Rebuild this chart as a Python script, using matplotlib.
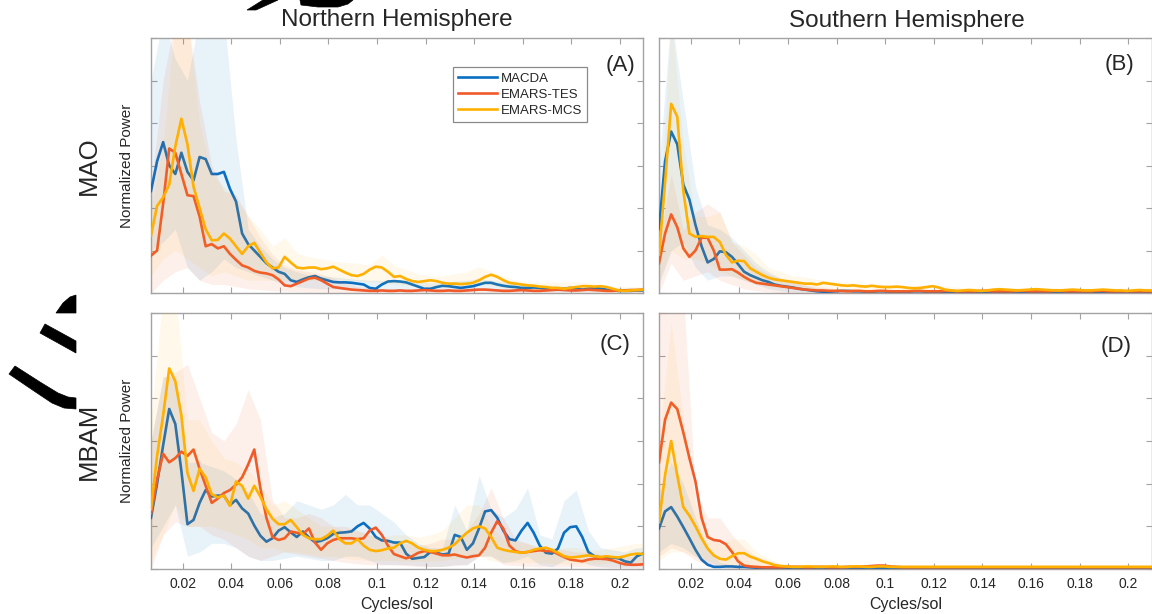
import numpy as np
import matplotlib
matplotlib.use("Agg")
import matplotlib.pyplot as plt
from matplotlib.patches import Polygon
from matplotlib.ticker import FixedLocator, FixedFormatter, NullFormatter

plt.rcParams['font.family'] = ['Liberation Sans', 'DejaVu Sans']

# ---------------------------------------------------------------- data
freq = 0.007 + 0.0025 * np.arange(82)        # cycles/sol, spectral lines
band_freq = 0.007 + 0.005 * np.arange(42)    # cycles/sol, spread envelopes

x_ticks = [0.02, 0.04, 0.06, 0.08, 0.1, 0.12, 0.14, 0.16, 0.18, 0.2]
x_tick_labels = ['0.02', '0.04', '0.06', '0.08', '0.1', '0.12', '0.14', '0.16', '0.18', '0.2']
y_ticks = [0, 1, 2, 3, 4, 5, 6]

series_names = ['MACDA', 'EMARS-TES', 'EMARS-MCS']
hemispheres = ['Northern Hemisphere', 'Southern Hemisphere']
indices = ['MAO', 'MBAM']
panel_letters = ['(A)', '(B)', '(C)', '(D)']

# ---- MAO, northern hemisphere
macda_mao_nh = [2.4, 3.1, 3.55, 3.0, 2.8, 3.3, 2.85, 2.65, 3.2, 3.15,
                2.8, 2.8, 2.85, 2.45, 2.15, 1.4, 1.15, 1.0, 0.85, 0.7,
                0.6, 0.5, 0.45, 0.3, 0.26, 0.32, 0.37, 0.4, 0.34, 0.3,
                0.26, 0.25, 0.25, 0.24, 0.22, 0.2, 0.12, 0.1, 0.2, 0.27,
                0.28, 0.27, 0.25, 0.2, 0.15, 0.1, 0.1, 0.14, 0.17, 0.16,
                0.14, 0.12, 0.14, 0.16, 0.2, 0.24, 0.24, 0.2, 0.17, 0.15,
                0.14, 0.12, 0.12, 0.13, 0.12, 0.1, 0.08, 0.08, 0.1, 0.12,
                0.1, 0.08, 0.1, 0.12, 0.1, 0.08, 0.06, 0.05, 0.05, 0.05,
                0.06, 0.06]
tes_mao_nh = [0.88, 1.0, 2.1, 3.4, 3.3, 2.8, 2.3, 2.28, 1.8, 1.1,
              1.15, 1.05, 1.1, 0.92, 0.78, 0.65, 0.6, 0.52, 0.48, 0.46,
              0.42, 0.32, 0.18, 0.16, 0.22, 0.28, 0.34, 0.36, 0.3, 0.22,
              0.14, 0.12, 0.1, 0.08, 0.07, 0.06, 0.05, 0.05, 0.06, 0.05,
              0.05, 0.06, 0.05, 0.05, 0.06, 0.07, 0.06, 0.05, 0.05, 0.06,
              0.05, 0.05, 0.06, 0.07, 0.08, 0.08, 0.07, 0.06, 0.05, 0.05,
              0.06, 0.07, 0.06, 0.05, 0.05, 0.06, 0.07, 0.08, 0.07, 0.06,
              0.06, 0.07, 0.08, 0.07, 0.06, 0.05, 0.05, 0.06, 0.06, 0.07,
              0.07, 0.08]
mcs_mao_nh = [1.35, 2.05, 2.25, 2.55, 3.45, 4.1, 3.5, 2.5, 2.0, 1.5,
              1.24, 1.25, 1.4, 1.28, 1.1, 0.92, 1.1, 1.18, 0.95, 0.72,
              0.58, 0.6, 0.85, 0.72, 0.6, 0.58, 0.6, 0.6, 0.56, 0.58,
              0.62, 0.55, 0.48, 0.42, 0.4, 0.45, 0.55, 0.62, 0.6, 0.5,
              0.38, 0.4, 0.33, 0.28, 0.26, 0.28, 0.3, 0.28, 0.24, 0.22,
              0.22, 0.21, 0.22, 0.24, 0.3, 0.38, 0.43, 0.38, 0.3, 0.24,
              0.22, 0.2, 0.18, 0.17, 0.15, 0.14, 0.12, 0.12, 0.1, 0.12,
              0.14, 0.16, 0.16, 0.15, 0.16, 0.14, 0.1, 0.06, 0.05, 0.06,
              0.07, 0.08]

macda_mao_nh_lo = [1.0, 1.2, 1.5, 0.6, 0.3, 0.5, 0.8, 0.6, 0.5, 0.4,
                   0.3, 0.2, 0.15, 0.12, 0.1, 0.1, 0.08, 0.06, 0.05, 0.05,
                   0.05, 0.05, 0.04, 0.04, 0.04, 0.04, 0.05, 0.06, 0.05, 0.04,
                   0.04, 0.03, 0.03, 0.03, 0.03, 0.03, 0.03, 0.03, 0.03, 0.03,
                   0.03, 0.03]
macda_mao_nh_hi = [5.0, 6.5, 5.5, 5.0, 6.5, 6.5, 6.5, 3.6, 1.5, 1.1,
                   0.8, 0.6, 0.5, 0.42, 0.4, 0.38, 0.35, 0.32, 0.3, 0.3,
                   0.32, 0.3, 0.26, 0.24, 0.25, 0.28, 0.3, 0.34, 0.3, 0.26,
                   0.22, 0.2, 0.18, 0.18, 0.16, 0.18, 0.16, 0.14, 0.12, 0.12,
                   0.12, 0.12]
tes_mao_nh_lo = [0.0, 0.3, 0.5, 0.6, 0.3, 0.2, 0.2, 0.15, 0.1, 0.08,
                 0.05, 0.04, 0.03, 0.02, 0.02, 0.02, 0.01, 0.01, 0.01, 0.01,
                 0.01, 0.01, 0.01, 0.01, 0.01, 0.01, 0.01, 0.01, 0.01, 0.01,
                 0.01, 0.01, 0.01, 0.01, 0.01, 0.01, 0.01, 0.01, 0.01, 0.01,
                 0.01, 0.01]
tes_mao_nh_hi = [2.5, 5.0, 6.5, 6.5, 4.5, 3.0, 2.4, 2.3, 1.8, 1.3,
                 0.9, 0.65, 0.55, 0.5, 0.45, 0.35, 0.25, 0.15, 0.12, 0.1,
                 0.1, 0.1, 0.1, 0.1, 0.1, 0.11, 0.12, 0.12, 0.11, 0.1,
                 0.1, 0.1, 0.11, 0.12, 0.11, 0.1, 0.1, 0.1, 0.11, 0.1,
                 0.1, 0.1]
mcs_mao_nh_lo = [0.4, 0.8, 1.0, 0.8, 0.6, 0.4, 0.5, 0.4, 0.3, 0.3,
                 0.3, 0.3, 0.3, 0.3, 0.3, 0.32, 0.3, 0.28, 0.26, 0.25,
                 0.2, 0.18, 0.15, 0.12, 0.12, 0.14, 0.2, 0.22, 0.18, 0.12,
                 0.1, 0.08, 0.07, 0.08, 0.08, 0.08, 0.06, 0.04, 0.03, 0.03,
                 0.03, 0.03]
mcs_mao_nh_hi = [2.0, 3.5, 6.5, 6.5, 4.0, 2.8, 2.5, 2.2, 1.8, 1.5,
                 1.1, 1.3, 0.95, 0.85, 0.8, 0.75, 0.72, 0.7, 0.65, 0.9,
                 0.65, 0.55, 0.45, 0.4, 0.4, 0.45, 0.5, 0.62, 0.5, 0.4,
                 0.3, 0.26, 0.24, 0.26, 0.26, 0.26, 0.24, 0.2, 0.16, 0.15,
                 0.15, 0.15]

# ---- MAO, southern hemisphere
macda_mao_sh = [1.5, 3.1, 3.8, 3.5, 2.55, 2.2, 1.6, 1.1, 0.72, 0.8,
                0.98, 0.96, 0.85, 0.68, 0.5, 0.42, 0.36, 0.3, 0.26, 0.2,
                0.17, 0.15, 0.13, 0.1, 0.08, 0.06, 0.04, 0.03, 0.03, 0.04,
                0.05, 0.05, 0.04, 0.04, 0.03, 0.03, 0.04, 0.04, 0.03, 0.03,
                0.03, 0.03, 0.04, 0.04, 0.03, 0.02, 0.02, 0.03, 0.03, 0.03,
                0.03, 0.02, 0.02, 0.03, 0.03, 0.02, 0.02, 0.02, 0.03, 0.03,
                0.02, 0.02, 0.02, 0.03, 0.03, 0.02, 0.02, 0.02, 0.02, 0.03,
                0.03, 0.02, 0.02, 0.02, 0.02, 0.03, 0.03, 0.02, 0.02, 0.02,
                0.02, 0.02]
tes_mao_sh = [0.7, 1.4, 1.85, 1.55, 1.05, 0.85, 1.0, 1.3, 1.3, 1.0,
              0.55, 0.55, 0.56, 0.48, 0.38, 0.3, 0.24, 0.22, 0.2, 0.18,
              0.16, 0.14, 0.12, 0.1, 0.08, 0.07, 0.06, 0.06, 0.05, 0.05,
              0.05, 0.04, 0.05, 0.05, 0.04, 0.04, 0.05, 0.05, 0.04, 0.04,
              0.04, 0.04, 0.05, 0.05, 0.04, 0.04, 0.04, 0.05, 0.05, 0.04,
              0.04, 0.04, 0.04, 0.05, 0.05, 0.04, 0.04, 0.04, 0.04, 0.05,
              0.05, 0.04, 0.04, 0.04, 0.04, 0.05, 0.05, 0.04, 0.04, 0.04,
              0.04, 0.04, 0.05, 0.05, 0.04, 0.04, 0.04, 0.04, 0.04, 0.04,
              0.04, 0.04]
mcs_mao_sh = [0.9, 2.6, 4.45, 4.15, 2.4, 1.4, 1.32, 1.34, 1.32, 1.32,
              1.2, 0.9, 0.72, 0.76, 0.75, 0.58, 0.5, 0.42, 0.36, 0.32,
              0.3, 0.28, 0.26, 0.24, 0.22, 0.22, 0.2, 0.24, 0.22, 0.2,
              0.18, 0.17, 0.18, 0.16, 0.15, 0.17, 0.15, 0.14, 0.14, 0.15,
              0.14, 0.12, 0.11, 0.12, 0.14, 0.16, 0.13, 0.08, 0.06, 0.05,
              0.06, 0.07, 0.06, 0.05, 0.06, 0.08, 0.09, 0.08, 0.07, 0.06,
              0.07, 0.08, 0.09, 0.08, 0.07, 0.06, 0.06, 0.07, 0.08, 0.07,
              0.06, 0.06, 0.07, 0.08, 0.07, 0.06, 0.06, 0.05, 0.06, 0.07,
              0.06, 0.06]

macda_mao_sh_lo = [0.2, 1.0, 1.2, 0.6, 0.3, 0.4, 0.4, 0.3, 0.2, 0.1,
                   0.05, 0.02, 0.0, 0.0, 0.0, 0.0, 0.0, 0.0, 0.0, 0.0,
                   0.0, 0.0, 0.0, 0.0, 0.0, 0.0, 0.0, 0.0, 0.0, 0.0,
                   0.0, 0.0, 0.0, 0.0, 0.0, 0.0, 0.0, 0.0, 0.0, 0.0,
                   0.0, 0.0]
macda_mao_sh_hi = [3.0, 6.5, 4.5, 2.5, 1.6, 1.5, 1.3, 1.0, 0.7, 0.5,
                   0.35, 0.25, 0.18, 0.12, 0.1, 0.08, 0.06, 0.06, 0.06, 0.06,
                   0.06, 0.06, 0.06, 0.06, 0.06, 0.06, 0.06, 0.06, 0.06, 0.06,
                   0.06, 0.06, 0.06, 0.06, 0.06, 0.06, 0.06, 0.06, 0.06, 0.06,
                   0.06, 0.06]
tes_mao_sh_lo = [0.0, 0.7, 0.3, 0.4, 0.5, 0.3, 0.2, 0.1, 0.05, 0.03,
                 0.0, 0.0, 0.0, 0.0, 0.0, 0.0, 0.0, 0.0, 0.0, 0.0,
                 0.0, 0.0, 0.0, 0.0, 0.0, 0.0, 0.0, 0.0, 0.0, 0.0,
                 0.0, 0.0, 0.0, 0.0, 0.0, 0.0, 0.0, 0.0, 0.0, 0.0,
                 0.0, 0.0]
tes_mao_sh_hi = [1.2, 2.8, 1.5, 1.9, 2.1, 1.9, 1.2, 0.9, 0.6, 0.45,
                 0.35, 0.25, 0.2, 0.15, 0.12, 0.08, 0.08, 0.08, 0.08, 0.08,
                 0.08, 0.08, 0.08, 0.08, 0.08, 0.08, 0.08, 0.08, 0.08, 0.08,
                 0.08, 0.08, 0.08, 0.08, 0.08, 0.08, 0.08, 0.08, 0.08, 0.08,
                 0.08, 0.08]
mcs_mao_sh_lo = [0.3, 1.0, 0.8, 0.8, 0.7, 0.5, 0.4, 0.3, 0.2, 0.15,
                 0.12, 0.1, 0.08, 0.06, 0.05, 0.04, 0.03, 0.02, 0.02, 0.02,
                 0.02, 0.02, 0.02, 0.02, 0.02, 0.02, 0.02, 0.02, 0.02, 0.02,
                 0.02, 0.02, 0.02, 0.02, 0.02, 0.02, 0.02, 0.02, 0.02, 0.02,
                 0.02, 0.02]
mcs_mao_sh_hi = [1.5, 6.5, 3.5, 1.8, 1.8, 1.9, 1.2, 1.1, 0.9, 0.6,
                 0.5, 0.4, 0.38, 0.32, 0.28, 0.26, 0.24, 0.22, 0.22, 0.2,
                 0.18, 0.18, 0.2, 0.18, 0.15, 0.13, 0.12, 0.12, 0.12, 0.12,
                 0.12, 0.12, 0.12, 0.12, 0.12, 0.12, 0.12, 0.12, 0.12, 0.12,
                 0.12, 0.12]

# ---- MBAM, northern hemisphere
macda_mbam_nh = [1.2, 2.0, 2.9, 3.75, 3.4, 2.3, 1.05, 1.15, 1.55, 1.85,
                 1.7, 1.72, 1.72, 1.5, 1.62, 1.42, 1.3, 1.02, 0.78, 0.64,
                 0.72, 0.9, 0.98, 0.86, 0.75, 0.88, 0.74, 0.63, 0.66, 0.72,
                 0.82, 0.85, 0.86, 0.88, 1.0, 1.08, 0.95, 0.75, 0.67, 0.66,
                 0.62, 0.62, 0.36, 0.24, 0.26, 0.28, 0.4, 0.38, 0.34, 0.36,
                 0.8, 0.75, 0.45, 0.6, 0.95, 1.35, 1.38, 1.2, 0.9, 0.7,
                 0.67, 0.9, 1.08, 0.85, 0.55, 0.38, 0.36, 0.48, 0.85, 0.98,
                 1.0, 0.75, 0.4, 0.3, 0.27, 0.26, 0.27, 0.25, 0.18, 0.15,
                 0.3, 0.36]
tes_mbam_nh = [1.3, 2.1, 2.7, 2.5, 2.6, 2.75, 2.65, 2.8, 2.35, 1.95,
               1.55, 1.65, 1.78, 1.85, 1.98, 2.15, 2.45, 2.8, 1.9, 1.2,
               0.75, 0.68, 0.72, 0.88, 0.85, 0.82, 0.95, 0.62, 0.45, 0.6,
               0.68, 0.72, 0.72, 0.72, 0.7, 0.72, 0.9, 0.97, 0.8, 0.55,
               0.35, 0.3, 0.25, 0.3, 0.38, 0.42, 0.4, 0.36, 0.32, 0.32,
               0.34, 0.3, 0.27, 0.3, 0.32, 0.5, 0.85, 1.12, 0.95, 0.55,
               0.42, 0.38, 0.4, 0.42, 0.44, 0.42, 0.42, 0.35, 0.28, 0.22,
               0.2, 0.18, 0.22, 0.24, 0.24, 0.23, 0.2, 0.15, 0.11, 0.1,
               0.1, 0.11]
mcs_mbam_nh = [1.4, 2.65, 3.6, 4.7, 4.4, 3.6, 2.25, 1.83, 2.35, 2.15,
               1.75, 1.68, 1.72, 1.48, 2.05, 1.95, 1.65, 1.95, 1.7, 1.4,
               1.18, 1.05, 1.05, 1.15, 0.98, 0.8, 0.72, 0.7, 0.7, 0.78,
               0.9, 0.7, 0.6, 0.6, 0.7, 0.55, 0.45, 0.42, 0.44, 0.48,
               0.5, 0.6, 0.66, 0.6, 0.5, 0.45, 0.42, 0.42, 0.45, 0.5,
               0.58, 0.72, 0.85, 0.95, 1.0, 0.95, 0.75, 0.5, 0.45, 0.42,
               0.4, 0.38, 0.4, 0.45, 0.48, 0.5, 0.45, 0.38, 0.3, 0.27,
               0.28, 0.3, 0.32, 0.3, 0.28, 0.3, 0.28, 0.27, 0.3, 0.34,
               0.36, 0.35]

macda_mbam_nh_lo = [0.5, 1.0, 1.5, 0.3, 0.4, 0.6, 0.6, 0.5, 0.3, 0.2,
                    0.2, 0.25, 0.3, 0.25, 0.2, 0.2, 0.3, 0.3, 0.2, 0.1,
                    0.1, 0.1, 0.08, 0.06, 0.06, 0.1, 0.1, 0.3, 0.3, 0.15,
                    0.2, 0.3, 0.1, 0.05, 0.2, 0.3, 0.1, 0.05, 0.04, 0.04,
                    0.05, 0.06]
macda_mbam_nh_hi = [3.0, 4.5, 4.5, 2.5, 2.5, 2.4, 2.3, 2.1, 1.8, 1.3,
                    1.2, 1.3, 1.6, 1.5, 1.4, 1.5, 1.75, 1.5, 1.5, 1.3,
                    1.1, 0.8, 0.6, 0.5, 0.5, 1.5, 0.9, 2.2, 1.4, 1.2,
                    1.4, 1.9, 0.8, 0.7, 1.6, 1.85, 0.9, 0.5, 0.45, 0.4,
                    0.5, 0.5]
tes_mbam_nh_lo = [0.0, 0.8, 1.1, 1.0, 1.0, 0.8, 0.7, 0.5, 0.3, 0.2,
                  0.3, 0.4, 0.35, 0.3, 0.25, 0.2, 0.15, 0.12, 0.1, 0.1,
                  0.1, 0.08, 0.06, 0.05, 0.06, 0.08, 0.1, 0.3, 0.3, 0.1,
                  0.08, 0.06, 0.05, 0.05, 0.05, 0.05, 0.04, 0.04, 0.03, 0.03,
                  0.03, 0.03]
tes_mbam_nh_hi = [3.0, 4.5, 4.6, 4.8, 4.0, 3.2, 3.0, 3.4, 4.2, 3.5,
                  1.6, 1.2, 1.2, 1.3, 1.2, 1.0, 1.0, 0.9, 0.8, 0.7,
                  0.6, 0.6, 0.55, 0.6, 0.7, 0.7, 0.9, 1.3, 1.9, 1.2,
                  0.7, 0.6, 0.5, 0.5, 0.45, 0.4, 0.4, 0.35, 0.3, 0.3,
                  0.3, 0.3]
mcs_mbam_nh_lo = [0.2, 0.8, 1.5, 1.0, 1.0, 1.0, 0.9, 0.8, 0.7, 0.5,
                  0.5, 0.4, 0.4, 0.35, 0.3, 0.3, 0.25, 0.22, 0.2, 0.2,
                  0.2, 0.18, 0.18, 0.18, 0.2, 0.25, 0.3, 0.3, 0.2, 0.15,
                  0.15, 0.15, 0.15, 0.12, 0.12, 0.12, 0.12, 0.12, 0.15, 0.15,
                  0.15, 0.15]
mcs_mbam_nh_hi = [3.5, 6.5, 6.5, 3.5, 3.5, 3.0, 2.6, 2.5, 2.3, 2.0,
                  1.5, 1.6, 1.4, 1.2, 1.0, 1.0, 0.9, 0.9, 0.8, 0.75,
                  0.8, 0.8, 0.75, 0.8, 0.9, 1.2, 1.5, 1.5, 1.0, 0.7,
                  0.65, 0.6, 0.5, 0.45, 0.5, 0.5, 0.45, 0.45, 0.5, 0.55,
                  0.6, 0.6]

# ---- MBAM, southern hemisphere
macda_mbam_sh = [0.95, 1.35, 1.45, 1.23, 0.98, 0.72, 0.45, 0.22, 0.1, 0.05,
                 0.05, 0.06, 0.06, 0.05, 0.05, 0.04, 0.03, 0.03, 0.03, 0.03,
                 0.03, 0.03, 0.02, 0.02, 0.03, 0.03, 0.02, 0.02, 0.02, 0.03,
                 0.03, 0.02, 0.02, 0.02, 0.02, 0.03, 0.03, 0.03, 0.02, 0.02,
                 0.02, 0.02, 0.02, 0.02, 0.02, 0.02, 0.02, 0.02, 0.02, 0.02,
                 0.02, 0.02, 0.02, 0.02, 0.02, 0.02, 0.02, 0.02, 0.02, 0.02,
                 0.02, 0.02, 0.02, 0.02, 0.02, 0.02, 0.02, 0.02, 0.02, 0.02,
                 0.02, 0.02, 0.02, 0.02, 0.02, 0.02, 0.02, 0.02, 0.02, 0.02,
                 0.02, 0.02]
tes_mbam_sh = [2.5, 3.5, 3.9, 3.75, 3.2, 2.6, 2.05, 1.2, 0.75, 0.68,
               0.66, 0.58, 0.4, 0.18, 0.08, 0.06, 0.05, 0.04, 0.04, 0.04,
               0.04, 0.05, 0.05, 0.05, 0.04, 0.04, 0.05, 0.05, 0.04, 0.04,
               0.04, 0.05, 0.05, 0.05, 0.06, 0.07, 0.08, 0.08, 0.06, 0.05,
               0.04, 0.04, 0.04, 0.04, 0.04, 0.04, 0.04, 0.04, 0.04, 0.04,
               0.04, 0.04, 0.04, 0.04, 0.04, 0.04, 0.04, 0.04, 0.04, 0.04,
               0.04, 0.04, 0.04, 0.04, 0.04, 0.04, 0.04, 0.04, 0.04, 0.04,
               0.04, 0.04, 0.04, 0.04, 0.04, 0.04, 0.04, 0.04, 0.04, 0.04,
               0.04, 0.04]
mcs_mbam_sh = [1.1, 2.2, 3.0, 2.2, 1.45, 1.25, 1.0, 0.72, 0.48, 0.32,
               0.24, 0.22, 0.3, 0.37, 0.37, 0.29, 0.24, 0.18, 0.14, 0.09,
               0.07, 0.06, 0.05, 0.05, 0.06, 0.06, 0.05, 0.05, 0.06, 0.06,
               0.05, 0.05, 0.06, 0.06, 0.05, 0.05, 0.06, 0.06, 0.05, 0.05,
               0.05, 0.05, 0.05, 0.05, 0.05, 0.05, 0.05, 0.05, 0.05, 0.05,
               0.05, 0.05, 0.05, 0.05, 0.05, 0.05, 0.05, 0.05, 0.05, 0.05,
               0.05, 0.05, 0.05, 0.05, 0.05, 0.05, 0.05, 0.05, 0.05, 0.05,
               0.05, 0.05, 0.05, 0.05, 0.05, 0.05, 0.05, 0.05, 0.05, 0.05,
               0.05, 0.05]

macda_mbam_sh_lo = [0.4, 0.6, 0.5, 0.3, 0.1, 0.02, 0.0, 0.0, 0.0, 0.0,
                    0.0, 0.0, 0.0, 0.0, 0.0, 0.0, 0.0, 0.0, 0.0, 0.0,
                    0.0, 0.0, 0.0, 0.0, 0.0, 0.0, 0.0, 0.0, 0.0, 0.0,
                    0.0, 0.0, 0.0, 0.0, 0.0, 0.0, 0.0, 0.0, 0.0, 0.0,
                    0.0, 0.0]
macda_mbam_sh_hi = [1.8, 2.5, 2.0, 1.2, 0.5, 0.15, 0.1, 0.08, 0.06, 0.05,
                    0.05, 0.05, 0.05, 0.05, 0.05, 0.05, 0.05, 0.05, 0.05, 0.05,
                    0.05, 0.05, 0.05, 0.05, 0.05, 0.05, 0.05, 0.05, 0.05, 0.05,
                    0.05, 0.05, 0.05, 0.05, 0.05, 0.05, 0.05, 0.05, 0.05, 0.05,
                    0.05, 0.05]
tes_mbam_sh_lo = [0.3, 0.5, 0.4, 0.2, 0.1, 0.05, 0.0, 0.0, 0.0, 0.0,
                  0.0, 0.0, 0.0, 0.0, 0.0, 0.0, 0.0, 0.0, 0.0, 0.0,
                  0.0, 0.0, 0.0, 0.0, 0.0, 0.0, 0.0, 0.0, 0.0, 0.0,
                  0.0, 0.0, 0.0, 0.0, 0.0, 0.0, 0.0, 0.0, 0.0, 0.0,
                  0.0, 0.0]
tes_mbam_sh_hi = [6.5, 6.5, 6.5, 1.8, 1.2, 1.2, 0.8, 0.5, 0.3, 0.2,
                  0.12, 0.1, 0.08, 0.08, 0.08, 0.08, 0.08, 0.1, 0.12, 0.1,
                  0.08, 0.08, 0.08, 0.08, 0.08, 0.08, 0.08, 0.08, 0.08, 0.08,
                  0.08, 0.08, 0.08, 0.08, 0.08, 0.08, 0.08, 0.08, 0.08, 0.08,
                  0.08, 0.08]
mcs_mbam_sh_lo = [0.2, 0.4, 0.4, 0.3, 0.2, 0.1, 0.1, 0.1, 0.05, 0.02,
                  0.02, 0.02, 0.02, 0.02, 0.02, 0.02, 0.02, 0.02, 0.02, 0.02,
                  0.02, 0.02, 0.02, 0.02, 0.02, 0.02, 0.02, 0.02, 0.02, 0.02,
                  0.02, 0.02, 0.02, 0.02, 0.02, 0.02, 0.02, 0.02, 0.02, 0.02,
                  0.02, 0.02]
mcs_mbam_sh_hi = [3.0, 5.8, 3.5, 1.5, 0.8, 0.6, 0.7, 0.7, 0.4, 0.25,
                  0.12, 0.1, 0.1, 0.1, 0.1, 0.1, 0.1, 0.1, 0.1, 0.1,
                  0.1, 0.1, 0.1, 0.1, 0.1, 0.1, 0.1, 0.1, 0.1, 0.1,
                  0.1, 0.1, 0.1, 0.1, 0.1, 0.1, 0.1, 0.1, 0.1, 0.1,
                  0.1, 0.1]

# panel order: (A) MAO-NH, (B) MAO-SH, (C) MBAM-NH, (D) MBAM-SH
panel_means = [
    [macda_mao_nh, tes_mao_nh, mcs_mao_nh],
    [macda_mao_sh, tes_mao_sh, mcs_mao_sh],
    [macda_mbam_nh, tes_mbam_nh, mcs_mbam_nh],
    [macda_mbam_sh, tes_mbam_sh, mcs_mbam_sh],
]
panel_bands = [
    [(macda_mao_nh_lo, macda_mao_nh_hi), (tes_mao_nh_lo, tes_mao_nh_hi), (mcs_mao_nh_lo, mcs_mao_nh_hi)],
    [(macda_mao_sh_lo, macda_mao_sh_hi), (tes_mao_sh_lo, tes_mao_sh_hi), (mcs_mao_sh_lo, mcs_mao_sh_hi)],
    [(macda_mbam_nh_lo, macda_mbam_nh_hi), (tes_mbam_nh_lo, tes_mbam_nh_hi), (mcs_mbam_nh_lo, mcs_mbam_nh_hi)],
    [(macda_mbam_sh_lo, macda_mbam_sh_hi), (tes_mbam_sh_lo, tes_mbam_sh_hi), (mcs_mbam_sh_lo, mcs_mbam_sh_hi)],
]

# ---------------------------------------------------------------- style
colors = ['#0A6FC2', '#F0592A', '#FFB000']
band_alpha = [0.09, 0.09, 0.08]
spine_color = '#A3A3A3'
text_color = '#262626'

W, H = 1152, 614
fig = plt.figure(figsize=(W / 100, H / 100), dpi=100)


def fig_xy(px, py):
    return px / W, 1 - py / H


# axes boxes in pixels: left, top, right, bottom
boxes = [(151, 38, 643, 293), (659, 38, 1151.5, 293),
         (151, 313, 643, 569), (659, 313, 1151.5, 569)]
letter_pos = [(0.984, 0.893), (0.966, 0.896), (0.975, 0.875), (0.960, 0.870)]

axes = []
for i, (l, t, r, b) in enumerate(boxes):
    ax = fig.add_axes([l / W, 1 - b / H, (r - l) / W, (b - t) / H])
    axes.append(ax)
    for s, (mean_list, (lo, hi)) in enumerate(zip(panel_means[i], panel_bands[i])):
        ax.fill_between(band_freq, lo, hi, color=colors[s], alpha=band_alpha[s],
                        linewidth=0, zorder=2 + 2 * s)
        ax.plot(freq, mean_list, color=colors[s], lw=1.9, zorder=3 + 2 * s,
                label=series_names[s])
    ax.set_xlim(freq[0], freq[-1])
    ax.set_ylim(0, 6)
    ax.xaxis.set_major_locator(FixedLocator(x_ticks))
    ax.yaxis.set_major_locator(FixedLocator(y_ticks))
    ax.yaxis.set_major_formatter(NullFormatter())
    if i >= 2:
        ax.xaxis.set_major_formatter(FixedFormatter(x_tick_labels))
        ax.set_xlabel('Cycles/sol', fontsize=11.5, color=text_color, labelpad=4)
    else:
        ax.xaxis.set_major_formatter(NullFormatter())
    ax.tick_params(direction='in', length=4, width=0.8, color=spine_color,
                   top=True, right=True, labelsize=10, labelcolor=text_color, pad=6)
    for sp in ax.spines.values():
        sp.set_color(spine_color)
        sp.set_linewidth(1.0)
    ax.text(letter_pos[i][0], letter_pos[i][1], panel_letters[i], transform=ax.transAxes,
            ha='right', va='center', fontsize=16, color=text_color)

# column titles, row labels and y-axis labels
fig.text(*fig_xy(397, 20), hemispheres[0], ha='center', va='center', fontsize=17.5, color=text_color)
fig.text(*fig_xy(907, 21), hemispheres[1], ha='center', va='center', fontsize=17.5, color=text_color)
fig.text(*fig_xy(89, 166), indices[0], ha='center', va='center', rotation=90, fontsize=18.5, color=text_color)
fig.text(*fig_xy(89, 441), indices[1], ha='center', va='center', rotation=90, fontsize=18.5, color=text_color)
fig.text(*fig_xy(127, 166), 'Normalized Power', ha='center', va='center', rotation=90,
         fontsize=11, color=text_color)
fig.text(*fig_xy(127, 441), 'Normalized Power', ha='center', va='center', rotation=90,
         fontsize=11, color=text_color)

leg = axes[0].legend(loc='upper left', bbox_to_anchor=(0.614, 0.886), fontsize=9.5,
                     handlelength=2.9, handletextpad=0.3, labelspacing=0.3,
                     borderpad=0.4, borderaxespad=0, frameon=True, fancybox=False,
                     framealpha=1, edgecolor='#8A8A8A')
leg.get_frame().set_linewidth(0.9)
for t in leg.get_texts():
    t.set_color(text_color)

# ink strokes along the upper-left margin
ink_shapes = [
    [(247, 10), (256, 10), (278, 0), (263, 0)],
    [(300, 0), (301, 5), (318, 7), (338, 7), (348, 4), (353, 0)],
    [(56, 313), (63, 303), (70, 297), (76, 295), (76, 313)],
    [(40, 333), (45, 324), (76, 341), (76, 353)],
    [(9, 374), (15, 366), (40, 382), (58, 393), (68, 397), (76, 398),
     (76, 409), (64, 408), (52, 403), (34, 391)],
]
for shape in ink_shapes:
    fig.add_artist(Polygon([fig_xy(x, y) for x, y in shape], closed=True,
                           facecolor='black', edgecolor='black', linewidth=0.5,
                           transform=fig.transFigure))

fig.savefig('out.png', dpi=100)
